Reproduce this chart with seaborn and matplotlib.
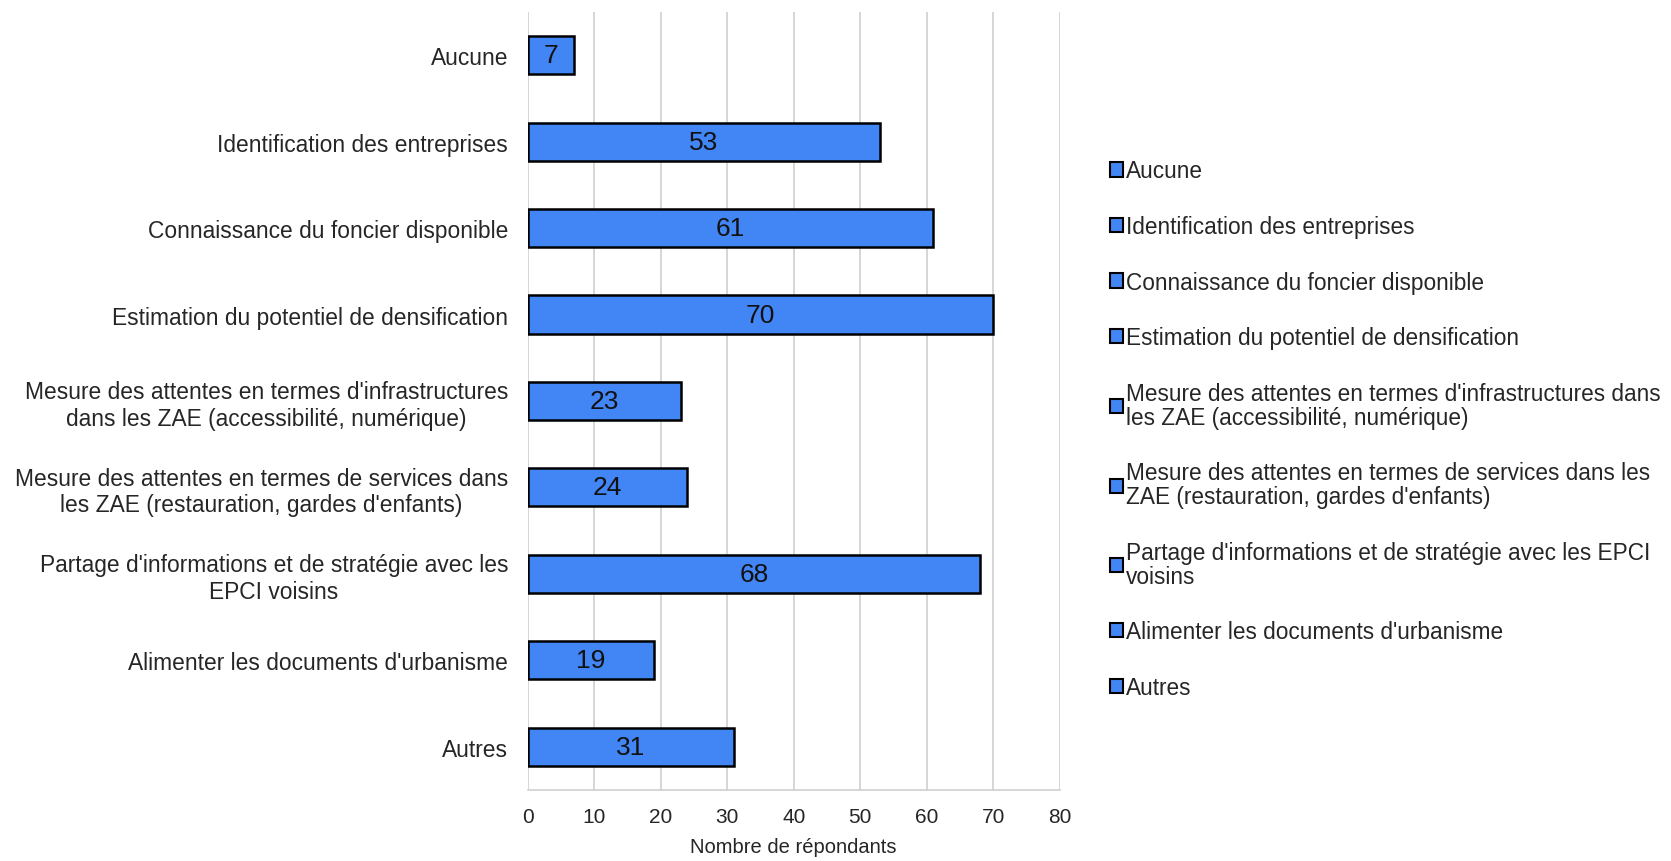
import matplotlib
matplotlib.use("Agg")
import matplotlib.pyplot as plt
from matplotlib.patches import Patch
import seaborn as sns
import pandas as pd

# ---- Data ----
categories = [
    "Aucune",
    "Identification des entreprises",
    "Connaissance du foncier disponible",
    "Estimation du potentiel de densification",
    "Mesure des attentes en termes d'infrastructures\ndans les ZAE (accessibilité, numérique)",
    "Mesure des attentes en termes de services dans\nles ZAE (restauration, gardes d'enfants)",
    "Partage d'informations et de stratégie avec les\nEPCI voisins",
    "Alimenter les documents d'urbanisme",
    "Autres",
]
legend_labels = [
    "Aucune",
    "Identification des entreprises",
    "Connaissance du foncier disponible",
    "Estimation du potentiel de densification",
    "Mesure des attentes en termes d'infrastructures dans\nles ZAE (accessibilité, numérique)",
    "Mesure des attentes en termes de services dans les\nZAE (restauration, gardes d'enfants)",
    "Partage d'informations et de stratégie avec les EPCI\nvoisins",
    "Alimenter les documents d'urbanisme",
    "Autres",
]
values = [7, 53, 61, 70, 23, 24, 68, 19, 31]
x_ticks = [0, 10, 20, 30, 40, 50, 60, 70, 80]

df = pd.DataFrame({"categorie": categories, "repondants": values})

# ---- Style ----
sns.set_style("white")
plt.rcParams["font.family"] = ["Liberation Sans", "DejaVu Sans"]
bar_color = "#4285F4"
grid_color = "#CFCFCF"

fig = plt.figure(figsize=(16.71, 8.62), dpi=100)
ax = fig.add_axes([0.3157, 0.0824, 0.3186, 0.9026])

sns.barplot(data=df, x="repondants", y="categorie", order=categories,
            color=bar_color, saturation=1, edgecolor="black", linewidth=1.8,
            width=0.44, ax=ax)

ax.bar_label(ax.containers[0], label_type="center", fontsize=19, color="#111111")

ax.set_xlim(0, 80)
ax.set_ylim(len(categories) - 0.5, -0.5)
ax.set_xticks(x_ticks)
ax.xaxis.grid(True, color=grid_color, linewidth=1.2)
ax.set_axisbelow(True)
for side in ["top", "right", "left"]:
    ax.spines[side].set_visible(False)
ax.spines["bottom"].set_color(grid_color)
ax.spines["bottom"].set_linewidth(1.2)

ax.tick_params(axis="both", length=0)
ax.tick_params(axis="y", labelsize=16.4, pad=14)
ax.tick_params(axis="x", labelsize=15, pad=12)
for lab in ax.get_yticklabels():
    lab.set_multialignment("center")

ax.set_ylabel("")
ax.set_xlabel("Nombre de répondants", fontsize=14.5, labelpad=8)

# ---- Legend ----
handles = [Patch(facecolor=bar_color, edgecolor="black", linewidth=1.5) for _ in legend_labels]
leg = fig.legend(handles, legend_labels, loc="center left", bbox_to_anchor=(0.664, 0.501),
                 frameon=False, fontsize=16.3, handlelength=0.6, handleheight=0.6,
                 handletextpad=0.12, labelspacing=1.44, borderpad=0, borderaxespad=0)
for t in leg.get_texts():
    t.set_linespacing(1.05)

fig.savefig("out.png", dpi=100, facecolor="white")
